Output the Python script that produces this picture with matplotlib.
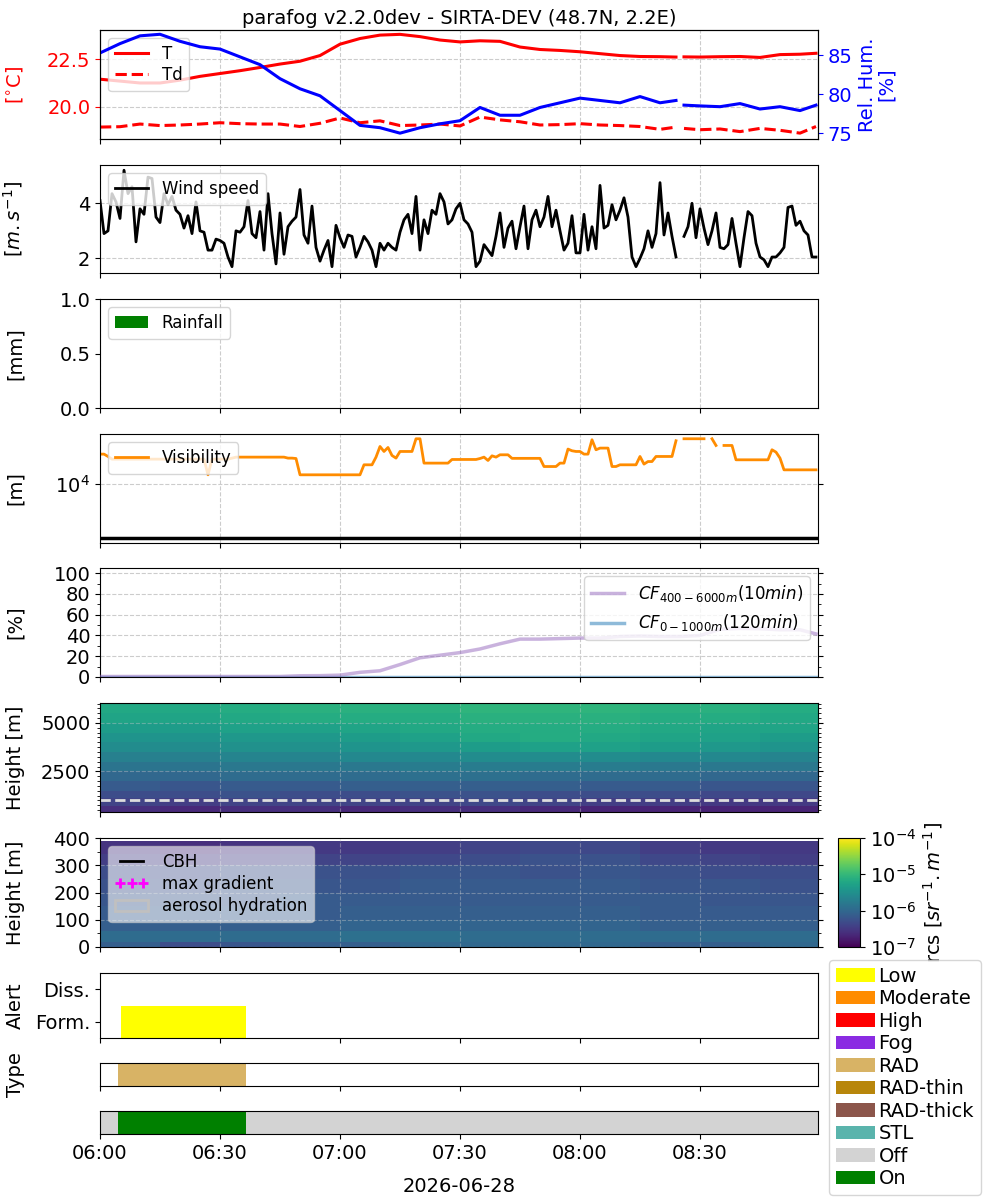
import numpy as np
import matplotlib
matplotlib.use("Agg")
import matplotlib.pyplot as plt
import matplotlib.dates as mdates
from matplotlib.colors import LogNorm
from matplotlib.patches import Patch
from matplotlib.lines import Line2D
from matplotlib.ticker import NullLocator, MultipleLocator, FixedLocator

plt.rcParams['font.family'] = ['DejaVu Sans']
plt.rcParams['font.size'] = 14

nan = np.nan
DAY = '2026-06-28'
T0 = np.datetime64(DAY + 'T06:00:00')
T_END_MIN = 179.5

# ---------------- data ----------------
# meteorological station (minutes after 06:00)
met_min = [0, 5, 10, 15, 20, 25, 30, 35, 40, 45, 50, 55, 60, 65, 70, 75, 80, 85, 90, 95,
           100, 105, 110, 115, 120, 125, 130, 135, 140, 144, 145, 146, 150, 155, 160, 165,
           170, 175, 179]
temperature = [21.45, 21.35, 21.25, 21.25, 21.4, 21.6, 21.75, 21.9, 22.07, 22.25, 22.4, 22.7,
               23.3, 23.6, 23.78, 23.82, 23.7, 23.52, 23.42, 23.48, 23.45, 23.15, 23.02, 22.97,
               22.9, 22.8, 22.7, 22.65, 22.64, 22.62, nan, 22.63, 22.62, 22.64, 22.65, 22.6,
               22.75, 22.77, 22.82]
dewpoint = [18.92, 18.94, 19.08, 19.0, 19.03, 19.08, 19.15, 19.1, 19.08, 19.08, 18.95, 19.12,
            19.4, 19.15, 19.25, 19.0, 19.03, 19.08, 18.98, 19.45, 19.3, 19.2, 19.03, 19.05,
            19.1, 19.03, 19.0, 18.95, 18.8, 18.92, nan, 18.85, 18.78, 18.82, 18.68, 18.85,
            18.75, 18.6, 18.95]
rel_hum = [85.3, 86.5, 87.5, 87.7, 86.8, 86.1, 85.8, 84.8, 83.8, 82.0, 80.7, 79.8, 77.9, 76.0,
           75.7, 75.0, 75.7, 76.2, 76.6, 78.3, 77.3, 77.3, 78.3, 78.9, 79.5, 79.2, 78.9, 79.7,
           78.9, 79.2, nan, 78.6, 78.5, 78.4, 78.8, 78.1, 78.4, 77.9, 78.6]

# one-minute series (06:00 ... 08:59)
wind_speed = [
    4.1, 2.9, 3.0, 4.35, 4.05, 3.45, 5.2, 4.35, 4.6, 2.6,
    3.8, 3.6, 4.95, 4.9, 3.5, 3.3, 4.35, 3.95, 4.25, 3.75,
    3.6, 3.1, 3.55, 2.9, 4.05, 3.0, 2.95, 2.3, 2.3, 2.7,
    2.65, 2.55, 2.05, 1.7, 3.0, 2.95, 3.15, 4.1, 2.9, 2.75,
    3.7, 2.3, 4.35, 2.9, 1.8, 3.65, 2.15, 3.15, 3.35, 3.5,
    4.5, 2.85, 2.55, 3.9, 2.4, 1.9, 2.3, 2.65, 1.7, 3.2,
    2.75, 2.4, 2.85, 2.8, 2.05, 2.4, 2.8, 2.6, 2.3, 1.7,
    2.55, 2.3, 2.55, 2.4, 2.3, 2.95, 3.4, 3.6, 2.9, 4.25,
    2.3, 3.4, 2.9, 3.75, 3.6, 4.35, 4.05, 3.25, 3.4, 3.8,
    4.0, 3.4, 3.25, 2.95, 1.7, 1.9, 2.5, 2.3, 2.1, 2.8,
    3.65, 2.4, 3.1, 3.35, 2.35, 3.15, 3.9, 2.35, 3.4, 3.75,
    3.15, 3.5, 4.25, 3.15, 3.75, 3.0, 2.3, 2.55, 3.55, 2.2,
    2.2, 3.6, 2.3, 3.15, 2.35, 4.65, 3.1, 3.2, 3.95, 3.4,
    3.75, 4.2, 3.5, 2.05, 1.7, 2.0, 2.35, 3.0, 2.4, 2.9,
    4.75, 2.85, 3.65, 2.8, 2.05, nan, 2.8, 3.15, 4.0, 2.75,
    3.8, 3.1, 2.5, 3.0, 3.65, 2.4, 2.35, 2.5, 3.45, 2.55,
    1.7, 2.75, 3.7, 3.55, 2.55, 2.05, 1.95, 1.7, 2.05, 2.05,
    2.2, 2.4, 3.85, 3.9, 3.2, 3.35, 3.0, 2.85, 2.05, 2.05]

visibility = [
    35900, 35900, 32500, 29000, 29000, 29000, 29000, 29000, 29000, 29000,
    29000, 29000, 29000, 29000, 29000, 29000, 29000, 29000, 29000, 29000,
    29000, 29000, 29000, 29000, 29000, 29000, 29000, 14900, 29000, 29000,
    29000, 29000, 29000, 30300, 31600, 31600, 31600, 31600, 31600, 31600,
    31600, 31600, 31600, 31600, 31600, 31600, 31600, 30300, 30300, 29800,
    14900, 14900, 14900, 14900, 14900, 14900, 14900, 14900, 14900, 14900,
    14900, 14900, 14900, 14900, 14900, 14900, 22800, 22800, 22800, 31600,
    49700, 40200, 47600, 33900, 30300, 40200, 40200, 40200, 40200, 69000,
    69000, 24500, 24500, 24500, 24500, 24500, 24500, 24500, 28600, 28600,
    28600, 28600, 28600, 28600, 28600, 29800, 31600, 27400, 33400, 31600,
    34900, 34900, 34900, 30000, 30000, 30000, 30000, 30000, 30000, 30000,
    30000, 21200, 21200, 21200, 21200, 24500, 24500, 44500, 41400, 40200,
    40200, 35900, 35900, 66100, 43200, 46400, 46400, 46400, 21200, 21200,
    22800, 22800, 22800, 22800, 22800, 32500, 23500, 26200, 26200, 32500,
    32500, 32500, 32500, 32500, 63400, nan, 69000, 69000, 69000, 69000,
    69000, 69000, nan, 69000, 51900, nan, 51900, 51900, 51900, 28200,
    28200, 28200, 28200, 28200, 28200, 28200, 28200, 28200, 43200, 39100,
    30300, 18400, 18400, 18400, 18400, 18400, 18400, 18400, 18400, 18400]
fog_vis_threshold = 1000

# cloud fraction
cf_min = [0, 5, 10, 15, 20, 25, 30, 35, 40, 45, 50, 55, 60, 65, 70, 75, 80, 85, 90, 95,
          100, 105, 110, 115, 120, 125, 130, 135, 140, 145, 150, 155, 160, 165, 170, 175, 179]
cf_high = [0.5, 0.5, 0.5, 0.5, 0.5, 0.5, 0.5, 0.5, 0.5, 0.5, 1.2, 1.3, 1.8, 4.5, 6.0, 12.0,
           18.5, 21.0, 23.5, 27.0, 32.0, 36.5, 36.5, 37.0, 37.5, 37.5, 39.0, 39.5, 39.0, 39.0,
           40.0, 46.0, 46.8, 46.5, 45.5, 45.5, 41.5]
cf_low = [0.0] * len(cf_min)

# lidar range-corrected signal, log10(rcs), coarse grid
lid_t_edges_min = [0, 15, 30, 45, 60, 75, 90, 105, 120, 135, 150, 165, 180]
hi_h_edges = [400, 700, 1100, 1500, 2000, 2500, 3000, 3500, 4000, 4500, 5000, 5500, 6030]
hi_log_rcs = [
    [-6.60, -6.65, -6.60, -6.60, -6.65, -6.60, -6.60, -6.65, -6.70, -6.70, -6.70, -6.70],
    [-6.40, -6.45, -6.40, -6.40, -6.40, -6.40, -6.35, -6.40, -6.45, -6.45, -6.50, -6.50],
    [-6.30, -6.30, -6.25, -6.30, -6.30, -6.25, -6.25, -6.30, -6.30, -6.30, -6.35, -6.35],
    [-6.15, -6.20, -6.15, -6.15, -6.10, -6.10, -6.10, -6.10, -6.15, -6.15, -6.20, -6.20],
    [-6.00, -6.00, -5.95, -5.95, -5.95, -5.90, -5.90, -5.95, -5.95, -5.95, -6.00, -6.00],
    [-5.85, -5.85, -5.80, -5.80, -5.80, -5.75, -5.75, -5.75, -5.75, -5.80, -5.80, -5.80],
    [-5.70, -5.70, -5.65, -5.65, -5.60, -5.60, -5.55, -5.55, -5.55, -5.60, -5.60, -5.65],
    [-5.55, -5.55, -5.50, -5.50, -5.45, -5.40, -5.35, -5.30, -5.30, -5.35, -5.40, -5.45],
    [-5.45, -5.45, -5.40, -5.40, -5.35, -5.30, -5.20, -5.15, -5.20, -5.25, -5.30, -5.35],
    [-5.35, -5.35, -5.30, -5.30, -5.25, -5.20, -5.15, -5.15, -5.15, -5.20, -5.25, -5.25],
    [-5.25, -5.25, -5.20, -5.15, -5.15, -5.15, -5.10, -5.10, -5.10, -5.15, -5.15, -5.20],
    [-5.20, -5.20, -5.15, -5.10, -5.10, -5.10, -5.05, -5.05, -5.05, -5.10, -5.10, -5.15],
]
lo_h_edges = [0, 20, 60, 100, 150, 200, 250, 300, 340, 390]
lo_log_rcs = [
    [-6.10, -6.30, -6.20, -6.10, -6.10, -6.00, -6.00, -6.00, -6.00, -6.10, -6.10, -6.00],
    [-5.95, -5.95, -5.95, -5.95, -5.90, -5.90, -5.95, -5.95, -5.95, -5.95, -5.95, -5.95],
    [-6.10, -6.10, -6.10, -6.10, -6.05, -6.05, -6.05, -6.05, -6.05, -6.10, -6.10, -6.10],
    [-6.15, -6.15, -6.15, -6.15, -6.10, -6.10, -6.10, -6.10, -6.10, -6.15, -6.15, -6.15],
    [-6.20, -6.20, -6.20, -6.15, -6.15, -6.15, -6.15, -6.15, -6.15, -6.15, -6.20, -6.20],
    [-6.25, -6.25, -6.20, -6.20, -6.20, -6.15, -6.15, -6.15, -6.15, -6.20, -6.20, -6.25],
    [-6.30, -6.30, -6.25, -6.25, -6.25, -6.20, -6.20, -6.25, -6.20, -6.25, -6.30, -6.30],
    [-6.45, -6.50, -6.45, -6.40, -6.40, -6.35, -6.30, -6.25, -6.25, -6.35, -6.40, -6.45],
    [-6.55, -6.60, -6.55, -6.50, -6.50, -6.45, -6.40, -6.35, -6.35, -6.45, -6.50, -6.50],
]
overlap_height = 1000
cbar_ticks = [1e-7, 1e-6, 1e-5, 1e-4]

# alerts / fog type / fog on-off (minutes after 06:00)
alert_low_start, alert_low_end = 5.25, 36.5
rad_start, rad_end = 4.5, 36.5
fog_on_start, fog_on_end = 4.5, 36.5

legend_labels = ['Low', 'Moderate', 'High', 'Fog', 'RAD', 'RAD-thin', 'RAD-thick', 'STL', 'Off', 'On']
legend_colors = ['yellow', 'darkorange', 'red', 'blueviolet', '#d8b365', 'darkgoldenrod',
                 '#8c564b', '#5ab4ac', 'lightgrey', 'green']

TITLE = 'parafog v2.2.0dev - SIRTA-DEV (48.7N, 2.2E)'


# ---------------- helpers ----------------
def tm(minutes):
    m = np.asarray(minutes, dtype=float)
    return mdates.date2num(T0) + m / 1440.0


one_min = np.arange(len(wind_speed))
XLIM = (tm(0), tm(T_END_MIN))

fig = plt.figure(figsize=(10, 12), dpi=100)


def box(top, bottom, left=100, right=818):
    return [left / 1000, 1 - bottom / 1200, (right - left) / 1000, (bottom - top) / 1200]


def style_time(ax, labels=False):
    ax.set_xlim(*XLIM)
    ax.xaxis.set_major_locator(mdates.MinuteLocator(byminute=[0, 30]))
    ax.xaxis.set_major_formatter(mdates.DateFormatter('%H:%M'))
    if not labels:
        ax.tick_params(axis='x', labelbottom=False)


def grid(ax, alpha=1.0):
    ax.grid(True, ls='--', color='#cccccc', lw=0.8, alpha=alpha)


LABX = -0.104

# ---- 1 temperature / humidity
ax1 = fig.add_axes(box(30, 139))
ax1.plot(tm(met_min), temperature, color='red', lw=2.2, label='T')
ax1.plot(tm(met_min), dewpoint, color='red', lw=2.2, ls='--', label='Td')
ax1.set_ylim(18.29, 24.05)
ax1.set_yticks([20.0, 22.5])
ax1.tick_params(axis='y', colors='red')
ax1.set_ylabel('[$^{\\circ}$C]', color='red')
ax1.yaxis.set_label_coords(LABX, 0.5)
style_time(ax1)
grid(ax1)
ax1.legend(loc='upper left', fontsize=12, labelspacing=0.2)
ax1.set_title(TITLE, fontsize=14, pad=4)
ax1b = ax1.twinx()
ax1b.plot(tm(met_min), rel_hum, color='blue', lw=2.2)
ax1b.set_ylim(74.25, 88.25)
ax1b.set_yticks([75, 80, 85])
ax1b.tick_params(axis='y', colors='blue')
ax1b.set_ylabel('Rel. Hum.\n[%]', color='blue', linespacing=1.0)
style_time(ax1b)

# ---- 2 wind
ax2 = fig.add_axes(box(165, 273))
ax2.plot(tm(one_min), wind_speed, color='black', lw=2, label='Wind speed')
ax2.set_ylim(1.47, 5.39)
ax2.set_yticks([2, 4])
ax2.set_ylabel('[$m.s^{-1}$]')
ax2.yaxis.set_label_coords(LABX, 0.5)
style_time(ax2)
grid(ax2)
ax2.legend(loc='upper left', fontsize=12)

# ---- 3 rainfall
ax3 = fig.add_axes(box(299, 408))
ax3.set_ylim(0, 1)
ax3.set_yticks([0.0, 0.5, 1.0])
ax3.set_ylabel('[mm]')
ax3.yaxis.set_label_coords(LABX, 0.5)
style_time(ax3)
ax3.grid(True, axis='x', ls='--', color='#cccccc', lw=0.8)
ax3.legend(handles=[Patch(facecolor='green', label='Rainfall')], loc='upper left', fontsize=12)

# ---- 4 visibility
ax4 = fig.add_axes(box(434, 543))
ax4.plot(tm(one_min), visibility, color='darkorange', lw=2, label='Visibility')
ax4.axhline(fog_vis_threshold, color='black', lw=2.5)
ax4.set_yscale('log')
ax4.set_ylim(820, 84500)
ax4.yaxis.set_major_locator(FixedLocator([1e4]))
ax4.yaxis.set_minor_locator(NullLocator())
ax4.tick_params(axis='y', right=True)
ax4.set_ylabel('[m]')
ax4.yaxis.set_label_coords(LABX, 0.5)
style_time(ax4)
grid(ax4)
ax4.legend(loc='upper left', fontsize=12)

# ---- 5 cloud fraction
ax5 = fig.add_axes(box(568, 677))
ax5.plot(tm(cf_min), cf_low, color='tab:blue', alpha=0.5, lw=2.5,
         label='$CF_{0-1000m}(120min)$', zorder=2)
ax5.plot(tm(cf_min), cf_high, color='tab:purple', alpha=0.5, lw=2.5,
         label='$CF_{400-6000m}(10min)$', zorder=3)
ax5.set_ylim(0, 105)
ax5.set_yticks([0, 20, 40, 60, 80, 100])
ax5.yaxis.set_minor_locator(MultipleLocator(10))
ax5.tick_params(axis='y', which='both', right=True)
ax5.set_ylabel('[%]')
ax5.yaxis.set_label_coords(LABX, 0.5)
style_time(ax5)
grid(ax5)
h, l = ax5.get_legend_handles_labels()
ax5.legend(h[::-1], l[::-1], loc='upper right', fontsize=12)

norm = LogNorm(1e-7, 1e-4)
tedges = tm(lid_t_edges_min)

# ---- 6 lidar high
ax6 = fig.add_axes(box(703, 812))
ax6.pcolormesh(tedges, hi_h_edges, 10.0 ** np.array(hi_log_rcs), cmap='viridis', norm=norm)
ax6.axhline(overlap_height, color='#dddddd', lw=2, ls='--')
ax6.set_ylim(400, 6030)
ax6.set_yticks([2500, 5000])
ax6.yaxis.set_minor_locator(MultipleLocator(250))
ax6.tick_params(axis='y', which='both', right=True)
ax6.set_ylabel('Height [m]')
ax6.yaxis.set_label_coords(LABX, 0.5)
style_time(ax6)
grid(ax6, alpha=0.4)

# ---- 7 lidar low
ax7 = fig.add_axes(box(838, 947))
mesh = ax7.pcolormesh(tedges, lo_h_edges, 10.0 ** np.array(lo_log_rcs), cmap='viridis', norm=norm)
ax7.set_ylim(0, 400)
ax7.set_yticks([0, 100, 200, 300, 400])
ax7.yaxis.set_minor_locator(MultipleLocator(50))
ax7.tick_params(axis='y', which='both', right=True)
ax7.set_ylabel('Height [m]')
ax7.yaxis.set_label_coords(LABX, 0.5)
style_time(ax7)
grid(ax7, alpha=0.4)
lh = [Line2D([], [], color='black', lw=2),
      Line2D([], [], color='magenta', marker='+', ls='none', ms=7, mew=2),
      Patch(facecolor='none', edgecolor='silver', lw=2)]
ax7.legend(lh, ['CBH', 'max gradient', 'aerosol hydration'], loc='upper left',
           fontsize=12, numpoints=3, framealpha=0.6, labelspacing=0.25)

cax = fig.add_axes(box(838, 947, 838, 860))
cb = fig.colorbar(mesh, cax=cax)
cb.set_ticks(cbar_ticks)
cb.ax.yaxis.set_minor_locator(NullLocator())
cb.set_label('rcs [$sr^{-1}.m^{-1}$]')

# ---- 8 alert
ax8 = fig.add_axes(box(973, 1038))
ax8.broken_barh([(tm(alert_low_start), tm(alert_low_end) - tm(alert_low_start))], (-0.5, 1.0),
                facecolor='yellow')
ax8.set_ylim(-0.5, 1.5)
ax8.set_yticks([0, 1])
ax8.set_yticklabels(['Form.', 'Diss.'])
ax8.set_ylabel('Alert')
ax8.yaxis.set_label_coords(LABX, 0.5)
style_time(ax8)

# ---- 9 type
ax9 = fig.add_axes(box(1063, 1086))
ax9.broken_barh([(tm(rad_start), tm(rad_end) - tm(rad_start))], (0, 1), facecolor='#d8b365')
ax9.set_ylim(0, 1)
ax9.set_yticks([])
ax9.set_ylabel('Type')
ax9.yaxis.set_label_coords(LABX, 0.5)
style_time(ax9)

# ---- 10 on/off
ax10 = fig.add_axes(box(1111, 1134))
ax10.broken_barh([(tm(0), tm(fog_on_start) - tm(0)),
                  (tm(fog_on_end), tm(T_END_MIN) - tm(fog_on_end))], (0, 1), facecolor='lightgrey')
ax10.broken_barh([(tm(fog_on_start), tm(fog_on_end) - tm(fog_on_start))], (0, 1), facecolor='green')
ax10.set_ylim(0, 1)
ax10.set_yticks([])
style_time(ax10, labels=True)
ax10.set_xlabel(DAY, labelpad=10)

handles = [Patch(facecolor=c, label=lab) for c, lab in zip(legend_colors, legend_labels)]
fig.legend(handles=handles, loc='upper left', bbox_to_anchor=(0.829, 1 - 960 / 1200),
           fontsize=14, labelspacing=0.18, handlelength=2.0, handletextpad=0.2,
           borderpad=0.35, borderaxespad=0)

fig.savefig('out.png', dpi=100)
